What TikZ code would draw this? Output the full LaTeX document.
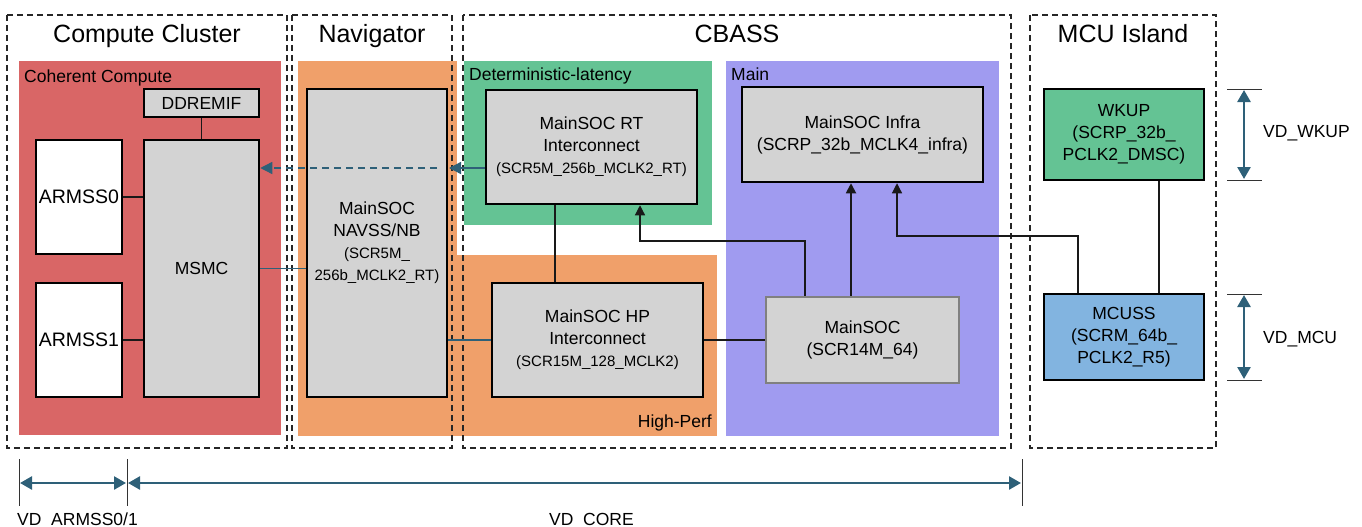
\documentclass[tikz,border=0pt]{standalone}
\usepackage{fontspec}
\setmainfont{Liberation Sans}
\usetikzlibrary{arrows.meta,calc}
\definecolor{ccred}{HTML}{D96666}
\definecolor{navor}{HTML}{F0A06A}
\definecolor{detgr}{HTML}{64C394}
\definecolor{mainpu}{HTML}{A09BF0}
\definecolor{boxgray}{HTML}{D3D3D3}
\definecolor{mcublue}{HTML}{82B4E0}
\definecolor{dimteal}{HTML}{2E6078}
\newcommand\fsbig{\fontsize{25}{30}\selectfont}
\newcommand\fsmid{\fontsize{17.5}{22}\selectfont}
\newcommand\fsarm{\fontsize{19.5}{23}\selectfont}
\newcommand\fssub{\fontsize{15}{20}\selectfont}
\begin{document}
\begin{tikzpicture}[x=1pt,y=-1pt,
  dbox/.style={draw=black!85,line width=1.2pt,dash pattern=on 6pt off 4pt},
  blk/.style={draw=black,line width=2.5pt,fill=boxgray,align=center,inner sep=0pt,font=\fsmid},
  title/.style={anchor=base,font=\fsbig},
  lbl/.style={font=\fsmid},
  conn/.style={draw=black!90,line width=1.2pt},
  tconn/.style={draw=dimteal,line width=1.3pt},
  arr/.style={-{Triangle[length=10pt,width=10pt]}},
  tarr/.style={-{Triangle[length=12pt,width=12pt]}},
  dimline/.style={draw=dimteal,line width=2.5pt,{Triangle[length=12pt,width=13pt]}-{Triangle[length=12pt,width=13pt]}},
  tickln/.style={draw=black!80,line width=1pt}]
\useasboundingbox (0,0) rectangle (1362,527);
% coloured regions
\fill[ccred] (19,61) rectangle (281,435);
\fill[navor] (298,61) rectangle (457,436);
\fill[navor] (455,255) rectangle (717,436);
\fill[detgr] (464,61) rectangle (712,225);
\fill[mainpu] (726,61) rectangle (999,436);
% dashed domain boxes
\draw[dbox] (7,15) rectangle (287,448);
\draw[dbox] (292,15) rectangle (452,448);
\draw[dbox] (463,15) rectangle (1011,448);
\draw[dbox] (1030,15) rectangle (1216,448);
% titles
\node[title] (tcc) at (147,43) {Compute Cluster};
\node[title] (tnav) at (372,43) {Navigator};
\node[title] (tcb) at (737,43) {CBASS};
\node[title] (tmcu) at (1123,43) {MCU Island};
% region labels
\node[lbl,anchor=base west,inner sep=0pt] (lcc) at (24,82) {Coherent Compute};
\node[lbl,anchor=base west,inner sep=0pt] (ldl) at (469,81) {Deterministic-latency};
\node[lbl,anchor=base west,inner sep=0pt] (lmain) at (731,81) {Main};
\node[lbl,anchor=base east,inner sep=0pt] (lhp) at (712,427) {High-Perf};
% blocks
\node[blk,minimum width=115pt,minimum height=28pt] (ddr) at (201.5,103) {DDREMIF};
\node[blk,minimum width=115pt,minimum height=257pt] (msmc) at (201.5,268.5) {MSMC};
\node[blk,fill=white,font=\fsarm,minimum width=86pt,minimum height=114pt] (arm0) at (79,197) {ARMSS0};
\node[blk,fill=white,font=\fsarm,minimum width=86pt,minimum height=114pt] (arm1) at (79,340) {ARMSS1};
\node[blk,minimum width=140pt,minimum height=308pt] (nav) at (377,243) {MainSOC\\NAVSS/NB\\{\fssub (SCR5M\_}\\{\fssub 256b\_MCLK2\_RT)}};
\node[blk,minimum width=211pt,minimum height=114pt] (rt) at (591.5,147) {MainSOC RT\\Interconnect\\{\fssub (SCR5M\_256b\_MCLK2\_RT)}};
\node[blk,minimum width=211pt,minimum height=114pt] (hp) at (597.5,340) {MainSOC HP\\Interconnect\\{\fssub (SCR15M\_128\_MCLK2)}};
\node[blk,minimum width=241pt,minimum height=95pt] (infra) at (862.5,134.5) {MainSOC Infra\\(SCRP\_32b\_MCLK4\_infra)};
\node[blk,draw=black!50,minimum width=193pt,minimum height=86pt] (msoc) at (862.5,340) {MainSOC\\(SCR14M\_64)};
\node[blk,fill=detgr,minimum width=160pt,minimum height=91pt] (wkup) at (1124,134.5) {WKUP\\(SCRP\_32b\_\\PCLK2\_DMSC)};
\node[blk,fill=mcublue,minimum width=160pt,minimum height=86pt] (mcuss) at (1124,337) {MCUSS\\(SCRM\_64b\_\\PCLK2\_R5)};
% connectors
\draw[conn] (ddr) -- (msmc);
\draw[conn] (arm0.east) -- (arm0.east -| msmc.west);
\draw[conn] (arm1.east) -- (arm1.east -| msmc.west);
\draw[tconn] (msmc.east) -- (msmc.east -| nav.west);
\draw[tconn] (hp.west) -- (hp.west -| nav.east);
\coordinate (navin) at (449,168);
\draw[tconn,tarr] (rt.west |- navin) -- (navin);
\draw[tconn,tarr,dash pattern=on 7pt off 5pt] ([xshift=-12pt]navin) -- (navin -| msmc.east);
\coordinate (rthp) at (555,240);
\draw[conn] (rt.south -| rthp) -- (hp.north -| rthp);
\draw[conn] (hp) -- (msoc);
\coordinate (j1) at (805,241);
\coordinate (j2) at (640,241);
\draw[conn,arr] (msoc.north -| j1) -- (j1) -- (j2) -- (rt.south -| j2);
\coordinate (j3) at (851,240);
\draw[conn,line width=1.8pt,arr] (msoc.north -| j3) -- (infra.south -| j3);
\coordinate (j4) at (1078,236);
\coordinate (j5) at (897,236);
\draw[conn,arr] (mcuss.north -| j4) -- (j4) -- (j5) -- (infra.south -| j5);
\coordinate (j6) at (1159,240);
\draw[conn] (wkup.south -| j6) -- (mcuss.north -| j6);
% voltage domain dimensions (bottom)
\coordinate (d0) at (19,483);
\coordinate (d1) at (127,483);
\coordinate (d2) at (1022,483);
\draw[tickln] ($(d0)+(0,-24)$) -- ($(d0)+(0,23)$);
\draw[tickln] ($(d1)+(0,-24)$) -- ($(d1)+(0,23)$);
\draw[tickln] ($(d2)+(0,-24)$) -- ($(d2)+(0,23)$);
\draw[dimline] ($(d0)+(1,0)$) -- ($(d1)+(-1,0)$);
\draw[dimline] ($(d1)+(1,0)$) -- ($(d2)+(-1,0)$);
\node[lbl,anchor=base west,inner sep=0pt] (vdarm) at (17,525) {VD\_ARMSS0/1};
\node[lbl,anchor=base west,inner sep=0pt] (vdcore) at (549,525) {VD\_CORE};
% voltage domain dimensions (right)
\coordinate (w0) at (1244,89);
\coordinate (w1) at (1244,180);
\coordinate (m0) at (1244,294);
\coordinate (m1) at (1244,380);
\draw[tickln] ($(w0)+(-17,0)$) -- ($(w0)+(18,0)$);
\draw[tickln] ($(w1)+(-17,0)$) -- ($(w1)+(18,0)$);
\draw[tickln] ($(m0)+(-17,0)$) -- ($(m0)+(18,0)$);
\draw[tickln] ($(m1)+(-17,0)$) -- ($(m1)+(18,0)$);
\draw[dimline] ($(w0)+(0,1)$) -- ($(w1)+(0,-1)$);
\draw[dimline] ($(m0)+(0,1)$) -- ($(m1)+(0,-1)$);
\node[lbl,anchor=base west,inner sep=0pt] (vdwk) at (1263,137) {VD\_WKUP};
\node[lbl,anchor=base west,inner sep=0pt] (vdmcu) at (1263,343) {VD\_MCU};
\end{tikzpicture}
\end{document}
